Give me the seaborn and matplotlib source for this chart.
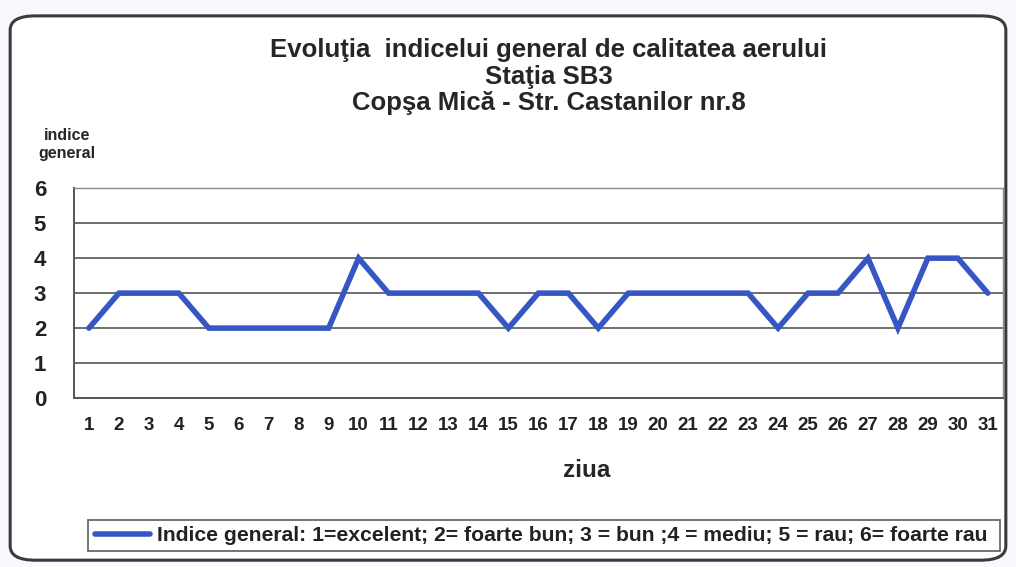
import numpy as np
import pandas as pd
import matplotlib
matplotlib.use("Agg")
import matplotlib.pyplot as plt
from matplotlib.patches import FancyBboxPatch
import seaborn as sns

# data
days = list(range(1, 32))
indice = [2, 3, 3, 3, 2, 2, 2, 2, 2, 4,
          3, 3, 3, 3, 2, 3, 3, 2, 3, 3,
          3, 3, 3, 2, 3, 3, 4, 2, 4, 4,
          3]
y_ticks = [0, 1, 2, 3, 4, 5, 6]
title_lines = ["Evoluţia  indicelui general de calitatea aerului",
               "Staţia SB3",
               "Copşa Mică - Str. Castanilor nr.8"]
legend_label = "Indice general: 1=excelent; 2= foarte bun; 3 = bun ;4 = mediu; 5 = rau; 6= foarte rau"

df = pd.DataFrame({"ziua": days, "indice": indice})

sns.set_style("white")
plt.rcParams["font.family"] = ["Liberation Sans", "DejaVu Sans"]
plt.rcParams["font.weight"] = "bold"

fig = plt.figure(figsize=(10.16, 5.67), dpi=100)
fig.patch.set_facecolor("#f7f9fc")

# rounded outer frame
frame = FancyBboxPatch((0.010, 0.012), 0.980, 0.960,
                       boxstyle="round,pad=0,rounding_size=0.025",
                       transform=fig.transFigure, facecolor="white",
                       edgecolor="#3a3a3a", linewidth=2.2, zorder=-5)
fig.patches.append(frame)

ax = fig.add_axes([0.0728, 0.298, 0.9142, 0.370])
ax.set_facecolor("white")
ax.set_zorder(2)

sns.lineplot(data=df, x="ziua", y="indice", ax=ax, color="#3656c4",
             linewidth=4.0, label=legend_label, legend=False,
             solid_joinstyle="miter", zorder=3)

ax.set_xlim(0.5, 31.5)
ax.set_ylim(0, 6)
ax.set_xticks(days)
ax.set_xticklabels([str(d) for d in days], fontsize=13.5, fontweight="bold", color="#222222")
ax.set_yticks(y_ticks)
ax.set_yticklabels([str(t) for t in y_ticks], fontsize=16, fontweight="bold", color="#222222")
ax.tick_params(axis="both", length=0)
ax.tick_params(axis="x", pad=14)
ax.tick_params(axis="y", pad=20)

for t in y_ticks[1:]:
    ax.axhline(t, color="#555555", linewidth=1.2, zorder=1)
for side in ["top", "right"]:
    ax.spines[side].set_color("#8a8a9a")
    ax.spines[side].set_linewidth(1.0)
for side in ["left", "bottom"]:
    ax.spines[side].set_color("#555555")
    ax.spines[side].set_linewidth(1.4)

ax.set_xlabel("ziua", fontsize=17.5, fontweight="bold")
ax.xaxis.set_label_coords(0.552, -0.292)
ax.set_ylabel("")

fig.text(0.540, 0.912, title_lines[0], ha="center", va="center", fontsize=18.5, fontweight="bold")
fig.text(0.540, 0.864, title_lines[1], ha="center", va="center", fontsize=18.5, fontweight="bold")
fig.text(0.540, 0.818, title_lines[2], ha="center", va="center", fontsize=18.5, fontweight="bold")
fig.text(0.066, 0.745, "indice\ngeneral", ha="center", va="center", fontsize=11.5,
         fontweight="bold", linespacing=1.25)

leg = ax.legend(loc="center left", bbox_to_anchor=(0.087, 0.022, 0.897, 0.067),
                bbox_transform=fig.transFigure, mode="expand", fontsize=15.2,
                frameon=True, fancybox=False, handlelength=2.6, borderaxespad=0,
                handletextpad=0.35, borderpad=0.3)
leg.get_frame().set_edgecolor("#444444")
leg.get_frame().set_linewidth(1.3)
for txt in leg.get_texts():
    txt.set_fontweight("bold")
    txt.set_color("#222222")

fig.savefig("out.png", dpi=100, facecolor=fig.get_facecolor())
